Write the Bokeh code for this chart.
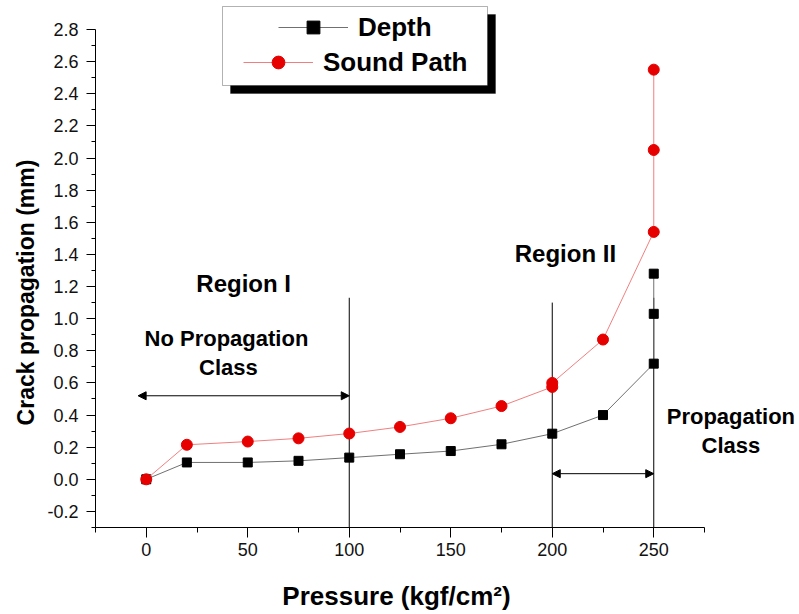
import math
from bokeh.plotting import figure
from bokeh.models import (Range1d, FixedTicker, PrintfTickFormatter, Label, Legend,
                          LegendItem, BoxAnnotation, Arrow, NormalHead, ColumnDataSource)
from bokeh.embed import file_html
from bokeh.resources import INLINE

# ---------------- data ----------------
pressure_depth = [0, 20, 50, 75, 100, 125, 150, 175, 200, 225, 250, 250, 250]
depth = [0.0, 0.105, 0.105, 0.115, 0.135, 0.156, 0.176, 0.218, 0.284, 0.40, 0.72, 1.03, 1.28]

pressure_sound = [0, 20, 50, 75, 100, 125, 150, 175, 200, 200, 225, 250, 250, 250]
sound_path = [0.0, 0.215, 0.235, 0.255, 0.285, 0.326, 0.38, 0.456, 0.575, 0.60, 0.87, 1.54, 2.05, 2.55]

x_ticks = [0, 50, 100, 150, 200, 250]
x_minor = [-25, 25, 75, 125, 175, 225, 275]
y_ticks = [-0.2, 0.0, 0.2, 0.4, 0.6, 0.8, 1.0, 1.2, 1.4, 1.6, 1.8, 2.0, 2.2, 2.4, 2.6, 2.8]
y_minor = [-0.3, -0.1, 0.1, 0.3, 0.5, 0.7, 0.9, 1.1, 1.3, 1.5, 1.7, 1.9, 2.1, 2.3, 2.5, 2.7]
x_axis_bounds = (-25, 275)
y_axis_bounds = (-0.3, 2.8)
x_title = "Pressure (kgf/cm\u00b2)"
y_title = "Crack propagation (mm)"

# region boundaries (vertical lines)
boundary_x = [100, 200, 250]
boundary_top = [1.13, 1.10, 1.13]
boundary_bottom = [-0.3, -0.3, -0.3]

# double-headed arrows
arrow_x_start = [-4, 200]
arrow_x_end = [100, 250]
arrow_y = [0.52, 0.035]

# annotation texts
note_texts = ["Region I", "No Propagation", "Class", "Region II", "Propagation", "Class"]
note_x = [48, 39.5, 40.5, 206.5, 288, 288]
note_y = [1.22, 0.877, 0.694, 1.403, 0.389, 0.208]
note_sizes = ["24px", "22px", "22px", "24px", "22px", "22px"]

FONT = "Liberation Sans"

# ---------------- layout ----------------
W, H = 798, 613
AX_L, AX_B = 95, 527                # canvas px of the axes' corner
AX_W, AX_H = 609, 498               # px spanned by the axis bounds
px_x = AX_W / (x_axis_bounds[1] - x_axis_bounds[0])
px_y = AX_H / (y_axis_bounds[1] - y_axis_bounds[0])
x_start = x_axis_bounds[0] - AX_L / px_x
x_end = x_axis_bounds[0] + (W - AX_L) / px_x
y_start = y_axis_bounds[0] - (H - AX_B) / px_y
y_end = y_axis_bounds[0] + AX_B / px_y

p = figure(width=W, height=H, output_backend="svg", toolbar_location=None,
           x_range=Range1d(x_start, x_end), y_range=Range1d(y_start, y_end),
           min_border=0)
p.outline_line_color = None
p.xgrid.visible = False
p.ygrid.visible = False
p.background_fill_color = "white"
p.border_fill_color = "white"

# axes (drawn inside the frame at fixed positions)
p.xaxis.fixed_location = y_axis_bounds[0]
p.yaxis.fixed_location = x_axis_bounds[0]
p.xaxis.ticker = FixedTicker(ticks=x_ticks, minor_ticks=x_minor)
p.yaxis.ticker = FixedTicker(ticks=y_ticks, minor_ticks=y_minor)
p.xaxis.bounds = x_axis_bounds
p.yaxis.bounds = y_axis_bounds
p.yaxis.formatter = PrintfTickFormatter(format="%.1f")
for ax in (p.xaxis, p.yaxis):
    ax.axis_line_color = "black"
    ax.axis_line_width = 1
    ax.major_tick_line_color = "black"
    ax.minor_tick_line_color = "black"
    ax.major_tick_in = 0
    ax.minor_tick_in = 0
    ax.major_label_text_font = FONT
    ax.major_label_text_font_size = "18px"
    ax.major_label_text_color = "#111111"
p.yaxis.major_tick_out = 9
p.yaxis.minor_tick_out = 4
p.yaxis.major_label_standoff = 8
p.xaxis.major_tick_out = 10
p.xaxis.minor_tick_out = 5
p.xaxis.major_label_standoff = 5

# axis titles
p.add_layout(Label(x=25, y=292, x_units="canvas", y_units="canvas", text=y_title,
                   angle=math.pi / 2, text_align="center", text_baseline="middle",
                   text_font=FONT, text_font_style="bold", text_font_size="23px",
                   text_color="black"))
p.add_layout(Label(x=396, y=595, x_units="canvas", y_units="canvas", text=x_title,
                   text_align="center", text_baseline="middle",
                   text_font=FONT, text_font_style="bold", text_font_size="26px",
                   text_color="black"))

# region boundary lines
p.segment(x0=boundary_x, y0=boundary_bottom, x1=boundary_x, y1=boundary_top,
          line_color="black", line_width=1)

# data
line_d = p.line(pressure_depth, depth, line_color="#707070", line_width=1)
sc_d = p.scatter(pressure_depth, depth, marker="square", size=9,
                 fill_color="black", line_color="black")
line_s = p.line(pressure_sound, sound_path, line_color="#f08080", line_width=1)
sc_s = p.scatter(pressure_sound, sound_path, marker="circle", size=11,
                 fill_color="#e60000", line_color="#e60000")

# arrows
arrow_src = ColumnDataSource(dict(xs=arrow_x_start, xe=arrow_x_end, y=arrow_y))
p.add_layout(Arrow(x_start="xs", y_start="y", x_end="xe", y_end="y", source=arrow_src,
                   line_color="black", line_width=1,
                   start=NormalHead(size=8, fill_color="black", line_color="black"),
                   end=NormalHead(size=8, fill_color="black", line_color="black")))

# texts
for t, x, y, s in zip(note_texts, note_x, note_y, note_sizes):
    p.add_layout(Label(x=x, y=y, text=t, text_align="center", text_baseline="middle",
                       text_font=FONT, text_font_style="bold", text_font_size=s,
                       text_color="black"))

# legend box with shadow
p.add_layout(BoxAnnotation(left=230, right=495, top=14, bottom=93,
                           left_units="canvas", right_units="canvas",
                           top_units="canvas", bottom_units="canvas",
                           fill_color="black", fill_alpha=1, line_color="black"))
p.add_layout(BoxAnnotation(left=222, right=487, top=6, bottom=85,
                           left_units="canvas", right_units="canvas",
                           top_units="canvas", bottom_units="canvas",
                           fill_color="white", fill_alpha=1, line_color="black",
                           line_width=1))

def make_legend(label, renderers, loc):
    return Legend(items=[LegendItem(label=label, renderers=renderers)], location=loc,
                  padding=0, margin=0, spacing=0, glyph_width=70, glyph_height=32,
                  label_height=32, label_standoff=10,
                  label_text_font=FONT, label_text_font_style="bold",
                  label_text_font_size="26px", label_text_color="black",
                  border_line_alpha=0, background_fill_alpha=0)

# legend rows placed relative to the frame's bottom-left corner
p.add_layout(make_legend("Depth", [line_d, sc_d], (278, H - 27 - 16)))
p.add_layout(make_legend("Sound Path", [line_s, sc_s], (243, H - 62 - 16)))

open("out.html", "w").write(file_html(p, INLINE))
